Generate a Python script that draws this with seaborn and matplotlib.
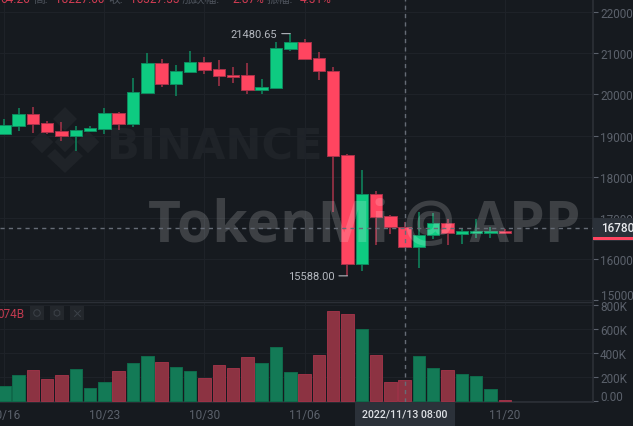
import pandas as pd
import matplotlib
matplotlib.use('Agg')
import matplotlib.pyplot as plt
from matplotlib.patches import Rectangle, Polygon
import seaborn as sns

# candles (day 0 = 10/16)
days = list(range(36))
opens = [19032, 19226, 19535, 19316, 19105, 19000, 19122, 19170, 19550, 19292, 20037, 20759,
         20256, 20548, 20801, 20613, 20484, 20467, 20110, 20168, 21107, 21287, 20888, 20582,
         18528, 15876, 17579, 17044, 16786, 16290, 16574, 16874, 16616, 16640, 16640, 16690]
closes = [19251, 19535, 19292, 19080, 19000, 19146, 19185, 19550, 19292, 20061, 20759, 20256,
          20582, 20801, 20589, 20450, 20426, 20110, 20192, 21131, 21287, 20864, 20565, 18504,
          15876, 17579, 17029, 16769, 16282, 16591, 16874, 16623, 16672, 16679, 16679, 16640]
highs = [19397, 19664, 19689, 19348, 19324, 19226, 19226, 19664, 19584, 20394, 21002, 20856,
         20728, 21068, 20913, 20832, 20679, 20776, 20370, 21277, 21480.65, 21343, 21044, 20679,
         18562, 18173, 17662, 17078, 16908, 17151, 17110, 16981, 16720, 16981, 16786, 16720]
lows = [19032, 19112, 19056, 19039, 18869, 18625, 19080, 19039, 19136, 19209, 20022, 20175,
        19964, 20533, 20492, 20200, 20290, 20012, 20005, 20144, 21058, 20856, 20363, 17141,
        15588, 15706, 16331, 16599, 16260, 15779, 16494, 16331, 16373, 16509, 16518, 16640]
volumes = [127, 218, 257, 183, 218, 266, 108, 163, 252, 321, 376, 324, 282, 252, 191, 301, 277, 368,
           315, 448, 243, 227, 382, 750, 722, 600, 387, 163, 180, 373, 277, 257, 224, 210, 102, 11]
# direction of volume bars as drawn in the lower pane
vol_up = [1, 1, 0, 0, 0, 1, 1, 1, 0, 1, 1, 0, 1, 1, 0, 0, 0, 0, 1, 1, 1, 0,
          0, 0, 0, 1, 0, 0, 0, 1, 1, 0, 1, 1, 1, 0]

price_ticks = [15000, 16000, 17000, 18000, 19000, 20000, 21000, 22000]
vol_ticks = [0, 200, 400, 600, 800]
vol_tick_labels = ['0.00', '200K', '400K', '600K', '800K']
date_ticks = [0, 7, 14, 21, 35]
date_labels = ['10/16', '10/23', '10/30', '11/06', '11/20']
crosshair_day = 28
crosshair_price = 16750

BG = '#161a1f'
GRID = '#1e2228'
AXIS = '#2b2f36'
TICK_TXT = '#5b616b'
GREEN = '#0ecb81'
RED = '#ff4560'
GREEN_DK = '#0f8a5f'
RED_DK = '#a8334a'
VOL_GREEN = '#137a56'
VOL_RED = '#8c3342'

sns.set_theme(style='dark', rc={'figure.facecolor': BG, 'axes.facecolor': 'none'})
plt.rcParams['font.family'] = ['Roboto', 'Noto Sans CJK SC', 'DejaVu Sans']

W, H = 633, 427
fig = plt.figure(figsize=(W / 100, H / 100), dpi=100)


def px_axes(left, top, right, bottom, **kw):
    return fig.add_axes([left / W, 1 - bottom / H, (right - left) / W, (bottom - top) / H], **kw)


# pixel space layer for the BINANCE mark, below the candles
back = px_axes(0, 0, W, H, zorder=0)
back.set_xlim(0, W)
back.set_ylim(H, 0)
back.axis('off')
wm_col = '#1f2328'
back.scatter([65, 42, 88, 65], [120, 143, 143, 143], marker='D', s=[150, 130, 130, 110], color=wm_col, linewidths=0)
back.add_patch(Polygon([(47, 157), (55, 150), (65, 160), (75, 150), (83, 157), (65, 174)], color=wm_col, lw=0))
back.text(107, 160, 'BINANCE', fontsize=31, fontweight='bold', color=wm_col, family='DejaVu Sans', va='baseline')

xlim = (-0.3, 41.17)
ax = px_axes(0, 0, 593, 302, zorder=1)
ax.set_xlim(*xlim)
ax.set_ylim(14976, 22323)

df = pd.DataFrame({'day': days, 'open': opens, 'close': closes, 'high': highs, 'low': lows, 'volume': volumes})
df['up'] = df['close'] >= df['open']
df['vol_dir'] = ['up' if v else 'down' for v in vol_up]

for up, col, dk in [(True, GREEN, GREEN_DK), (False, RED, RED_DK)]:
    part = df[df['up'] == up]
    ax.vlines(part['day'], part['low'], part['high'], color=dk, lw=1.1, zorder=2)
    tops = part[['open', 'close']].max(axis=1)
    bots = part[['open', 'close']].min(axis=1)
    ax.bar(part['day'], tops - bots, bottom=bots, width=0.87, color=col, edgecolor=dk, linewidth=0.7, zorder=3)

ax.set_yticks(price_ticks)
ax.set_yticklabels(['' if t == 15000 else f'{t}.00' for t in price_ticks])
ax.annotate('15000.00', xy=(1, 15000), xycoords=('axes fraction', 'data'), xytext=(5.6, 3.5),
            textcoords='offset points', fontsize=8.5, color=TICK_TXT, va='center', annotation_clip=False)
ax.yaxis.tick_right()
ax.set_xticks(date_ticks + [crosshair_day])
ax.tick_params(axis='x', length=0, labelbottom=False)
ax.tick_params(axis='y', length=3.6, width=0.8, color=TICK_TXT, labelcolor=TICK_TXT, labelsize=8.5, pad=1.5)
ax.grid(True, color=GRID, lw=0.8)
ax.set_axisbelow(True)
for s in ['top', 'left', 'bottom']:
    ax.spines[s].set_visible(False)
ax.spines['right'].set_color(AXIS)

# high / low callouts
hi_day = df.loc[df['high'].idxmax(), 'day']
lo_day = df.loc[df['low'].idxmin(), 'day']
for d, v in [(hi_day, max(highs)), (lo_day, min(lows))]:
    ax.annotate(f'{v:.2f}', xy=(d, v), xytext=(-9.5, 0), textcoords='offset points', fontsize=8,
                color='#b4b8bf', ha='right', va='center', zorder=7,
                arrowprops=dict(arrowstyle='-', color='#b4b8bf', lw=0.8, shrinkA=1, shrinkB=0))

# big watermark sits on top of the candles
ax.text(148 / W, 1 - 242 / H, 'TokenMi @ APP', transform=fig.transFigure, fontsize=41, fontweight='bold',
        color='white', alpha=0.17, family='Open Sans', va='baseline', zorder=5)

ax.axhline(crosshair_price, color='#666c76', lw=1.0, ls=(0, (3, 3)), zorder=6)
ax.axvline(crosshair_day, color='#666c76', lw=1.0, ls=(0, (3, 3)), zorder=6)

# volume pane
ax_vol = px_axes(0, 303, 593, 403, zorder=1)
sns.barplot(data=df, x='day', y='volume', hue='vol_dir', palette={'up': VOL_GREEN, 'down': VOL_RED},
            native_scale=True, dodge=False, width=0.87, saturation=1, legend=False, ax=ax_vol, zorder=3,
            linewidth=0.7, edgecolor='#1c5f48')
for patch in ax_vol.patches:
    is_green = matplotlib.colors.to_hex(patch.get_facecolor()) == VOL_GREEN
    patch.set_edgecolor('#0f6b4b' if is_green else '#9c3347')
ax_vol.set_xlim(*xlim)
ax_vol.set_ylim(-6, 825)
ax_vol.set_xlabel('')
ax_vol.set_ylabel('')
ax_vol.yaxis.tick_right()
ax_vol.set_yticks(vol_ticks)
ax_vol.set_yticklabels(['' if t == 0 else l for t, l in zip(vol_ticks, vol_tick_labels)])
ax_vol.annotate('0.00', xy=(1, 0), xycoords=('axes fraction', 'data'), xytext=(5.6, 3.5),
                textcoords='offset points', fontsize=8.5, color=TICK_TXT, va='center', annotation_clip=False)
ax_vol.set_xticks(date_ticks)
ax_vol.set_xticklabels(date_labels)
ax_vol.tick_params(axis='x', length=3.6, width=0.8, color=TICK_TXT, labelcolor=TICK_TXT, labelsize=8.5, pad=0.8)
ax_vol.tick_params(axis='y', length=3.6, width=0.8, color=TICK_TXT, labelcolor=TICK_TXT, labelsize=8.5, pad=1.5)
ax_vol.grid(True, color=GRID, lw=0.8)
ax_vol.set_axisbelow(True)
for s in ['top', 'left']:
    ax_vol.spines[s].set_visible(False)
for s in ['right', 'bottom']:
    ax_vol.spines[s].set_color(AXIS)
ax_vol.axvline(crosshair_day, color='#666c76', lw=1.0, ls=(0, (3, 3)), zorder=6)

# top layer: labels, boxes, pane separator, header remains
top = px_axes(0, 0, W, H, zorder=4)
top.set_xlim(0, W)
top.set_ylim(H, 0)
top.axis('off')
top.axhline(302.5, xmin=0, xmax=593 / W, color=AXIS, lw=1.0)

top.add_patch(Rectangle((355, 403), 100, 24, color='#2b3139', lw=0))
top.text(405, 414.5, '2022/11/13 08:00', fontsize=7.7, color='#dfe2e6', fontweight='medium', ha='center', va='center')
top.add_patch(Rectangle((593, 219), 40, 23, color='#2b3139', lw=0))
top.add_patch(Rectangle((593, 238), 40, 3, color=RED, lw=0))
top.text(601, 228.5, '16780.00', fontsize=8.5, color='#eaecef', fontweight='medium', va='center', clip_on=True)

# vol legend and its three icons
top.text(25, 315, '074B', fontsize=8.5, color='#c23a50', ha='right', va='center')
for x0, marker in [(30, 'o'), (50, 'h'), (70, 'x')]:
    top.add_patch(Rectangle((x0, 307), 14, 14, color='#23272c', lw=0))
    top.scatter([x0 + 7], [314], marker=marker, s=22, facecolors='none' if marker != 'x' else '#3c4148',
                edgecolors='#3c4148', linewidths=0.7)

# header row, cut off by the top of the image
for x0, s, c in [(0, '64.26', RED), (33, '高:', TICK_TXT), (55, '18227.00', RED), (108, '收:', TICK_TXT),
                 (130, '16327.33', RED), (182, '涨跌幅:', TICK_TXT), (232, '2.87%', RED),
                 (267, '振幅:', TICK_TXT), (300, '4.31%', RED)]:
    top.text(x0, 3, s, fontsize=8.5, color=c, va='baseline', alpha=0.8)

fig.savefig('out.png', dpi=100, facecolor=BG)
